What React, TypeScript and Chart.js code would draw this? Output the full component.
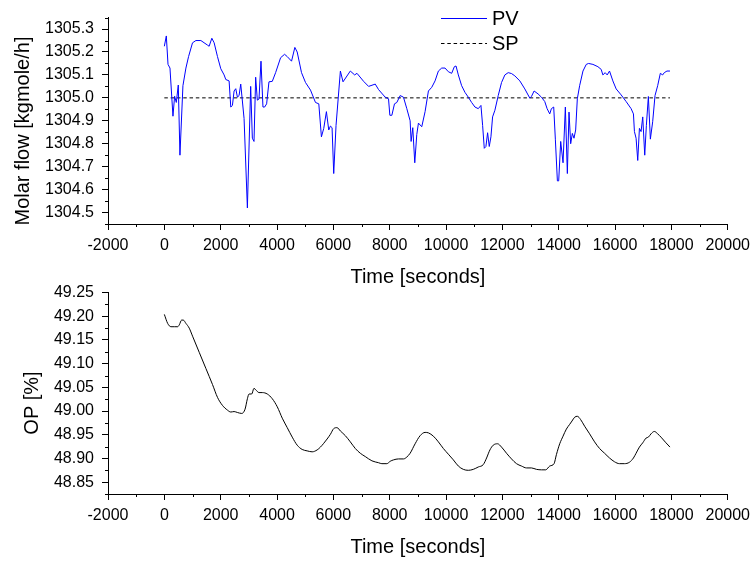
import React, { useEffect, useRef } from 'react';
import { Chart, registerables } from 'chart.js';

Chart.register(...registerables);

const FONT = "'Liberation Sans', Arial, Helvetica, sans-serif";

// ---- tick labels ----
const timeTicks = [-2000, 0, 2000, 4000, 6000, 8000, 10000, 12000, 14000, 16000, 18000, 20000];
const flowTicks = [1304.5, 1304.6, 1304.7, 1304.8, 1304.9, 1305.0, 1305.1, 1305.2, 1305.3];
const opTicks = [48.85, 48.9, 48.95, 49.0, 49.05, 49.1, 49.15, 49.2, 49.25];

// ---- PV (molar flow) ----
const pvTime = [
  0, 70, 130, 200, 306, 365, 424, 495, 554, 660,
  766, 860, 1000, 1120, 1297, 1533, 1590, 1686, 1768, 1886,
  2004, 2122, 2181, 2299, 2358, 2417, 2476, 2535, 2594, 2653,
  2712, 2830, 2948, 3065, 3124, 3183, 3242, 3301, 3360, 3431,
  3501, 3560, 3631, 3714, 3832, 3950, 4127, 4268, 4363, 4515,
  4633, 4716, 4869, 5011, 5188, 5365, 5483, 5576, 5659, 5753,
  5836, 5895, 5954, 6013, 6095, 6249, 6343, 6602, 6756, 6838,
  7074, 7251, 7487, 7605, 7840, 7958, 8005, 8076, 8170, 8253,
  8371, 8489, 8607, 8725, 8760, 8819, 8890, 8961, 9020, 9138,
  9256, 9374, 9492, 9610, 9728, 9846, 9964, 10082, 10200, 10295,
  10354, 10436, 10554, 10672, 10790, 10908, 11026, 11144, 11239, 11298,
  11357, 11416, 11475, 11534, 11593, 11652, 11734, 11852, 11970, 12088,
  12206, 12324, 12442, 12619, 12796, 12973, 13032, 13126, 13268, 13386,
  13504, 13587, 13681, 13740, 13822, 13881, 13952, 13999, 14070, 14153,
  14235, 14306, 14365, 14424, 14483, 14542, 14601, 14660, 14742, 14860,
  14978, 15060, 15214, 15390, 15508, 15567, 15650, 15720, 15803, 15921,
  16039, 16215, 16392, 16569, 16652, 16687, 16746, 16805, 16864, 16923,
  16982, 17053, 17111, 17182, 17253, 17335, 17418, 17512, 17607, 17689,
  17748, 17842, 17949,
];
const pvFlow = [
  1305.225, 1305.27, 1305.146, 1305.13, 1304.92, 1305.007, 1304.98, 1305.056, 1304.75, 1305.053,
  1305.13, 1305.18, 1305.24, 1305.25, 1305.25, 1305.23, 1305.225, 1305.26, 1305.24, 1305.18,
  1305.127, 1305.10, 1305.08, 1305.074, 1304.96, 1304.967, 1305.03, 1305.04, 1305.003, 1305.01,
  1305.06, 1304.91, 1304.52, 1305.05, 1304.824, 1304.81, 1305.09, 1304.99, 1304.995, 1305.16,
  1304.96, 1304.96, 1304.974, 1305.07, 1305.072, 1305.11, 1305.175, 1305.19, 1305.18, 1305.16,
  1305.22, 1305.20, 1305.11, 1305.067, 1305.034, 1304.98, 1304.974, 1304.83, 1304.867, 1304.94,
  1304.86, 1304.877, 1304.87, 1304.67, 1304.88, 1305.117, 1305.07, 1305.117, 1305.10, 1305.107,
  1305.072, 1305.05, 1305.06, 1305.036, 1305.003, 1304.996, 1304.924, 1304.924, 1304.974, 1304.98,
  1305.01, 1305.003, 1304.953, 1304.90, 1304.81, 1304.87, 1304.717, 1304.84, 1304.89, 1304.874,
  1304.94, 1305.03, 1305.046, 1305.074, 1305.117, 1305.13, 1305.13, 1305.114, 1305.107, 1305.136,
  1305.139, 1305.10, 1305.053, 1305.024, 1305.003, 1304.98, 1304.96, 1304.953, 1304.967, 1304.88,
  1304.78, 1304.788, 1304.848, 1304.788, 1304.83, 1304.917, 1304.946, 1305.01, 1305.067, 1305.10,
  1305.11, 1305.106, 1305.096, 1305.074, 1305.039, 1304.999, 1305.006, 1305.03, 1305.017, 1305.003,
  1304.984, 1304.953, 1304.93, 1304.953, 1304.96, 1304.817, 1304.638, 1304.638, 1304.81, 1304.717,
  1304.96, 1304.67, 1304.938, 1304.80, 1304.845, 1304.824, 1304.86, 1304.996, 1305.053, 1305.117,
  1305.146, 1305.15, 1305.146, 1305.136, 1305.124, 1305.10, 1305.11, 1305.10, 1305.117, 1305.074,
  1305.039, 1305.013, 1304.984, 1304.953, 1304.93, 1304.853, 1304.824, 1304.727, 1304.867, 1304.853,
  1304.917, 1304.75, 1304.88, 1305.006, 1304.82, 1304.896, 1305.01, 1305.053, 1305.107, 1305.10,
  1305.11, 1305.117, 1305.117,
];

// ---- SP ----
const spTime = [0, 17949];
const spFlow = [1305.0, 1305.0];

// ---- OP ----
const opTime = [
  0, 118, 236, 354, 472, 531, 613, 672, 766, 884,
  1002, 1238, 1474, 1710, 1886, 2063, 2240, 2358, 2476, 2594,
  2747, 2865, 2948, 3006, 3101, 3183, 3242, 3360, 3478, 3655,
  3832, 4009, 4186, 4363, 4540, 4716, 4893, 5070, 5247, 5424,
  5541, 5659, 5777, 5895, 6013, 6131, 6249, 6426, 6602, 6779,
  6956, 7133, 7369, 7605, 7722, 7899, 8017, 8135, 8312, 8489,
  8607, 8725, 8902, 9079, 9256, 9374, 9551, 9728, 9905, 10082,
  10259, 10436, 10613, 10790, 10967, 11144, 11321, 11439, 11557, 11675,
  11828, 11970, 12147, 12324, 12501, 12678, 12855, 13032, 13209, 13386,
  13539, 13681, 13834, 13917, 14035, 14153, 14271, 14389, 14471, 14566,
  14660, 14778, 14920, 15096, 15273, 15450, 15627, 15803, 15980, 16157,
  16333, 16510, 16652, 16746, 16864, 16982, 17100, 17182, 17276, 17394,
  17512, 17630, 17807, 17949,
];
const opValue = [
  49.204, 49.185, 49.178, 49.178, 49.178, 49.182, 49.192, 49.192, 49.185, 49.175,
  49.158, 49.124, 49.09, 49.056, 49.029, 49.012, 49.002, 48.998, 48.999, 48.997,
  48.995, 49.004, 49.026, 49.036, 49.036, 49.048, 49.045, 49.039, 49.039, 49.036,
  49.026, 49.009, 48.985, 48.965, 48.945, 48.928, 48.919, 48.916, 48.914, 48.918,
  48.924, 48.932, 48.941, 48.951, 48.963, 48.965, 48.958, 48.948, 48.935, 48.921,
  48.911, 48.904, 48.895, 48.891, 48.889, 48.889, 48.894, 48.897, 48.899, 48.899,
  48.903, 48.911, 48.931, 48.948, 48.955, 48.954, 48.947, 48.935, 48.921, 48.909,
  48.897, 48.884, 48.877, 48.875, 48.877, 48.882, 48.887, 48.901, 48.918, 48.928,
  48.931, 48.924, 48.911, 48.899, 48.889, 48.884, 48.880, 48.880, 48.877, 48.876,
  48.876, 48.884, 48.889, 48.908, 48.931, 48.947, 48.962, 48.972, 48.979, 48.987,
  48.989, 48.982, 48.968, 48.952, 48.935, 48.921, 48.911, 48.901, 48.893, 48.889,
  48.889, 48.892, 48.901, 48.911, 48.924, 48.933, 48.943, 48.945, 48.952, 48.957,
  48.952, 48.945, 48.933, 48.924,
];

const zip = (xs: number[], ys: number[]) => xs.map((x, i) => ({ x, y: ys[i] }));

function minorTicksPlugin(xMajor: number[], yMajor: number[]) {
  return {
    id: 'minorTicks',
    afterDraw(chart: any) {
      const ctx = chart.ctx;
      const { left, bottom } = chart.chartArea;
      ctx.save();
      ctx.strokeStyle = '#000';
      ctx.lineWidth = 1;
      const draw = (id: string, major: number[]) => {
        const scale = chart.scales[id];
        const step = major[1] - major[0];
        const vals = [major[0] - step / 2, ...major.map((v) => v + step / 2)].filter(
          (v) => v >= scale.min - 1e-9 && v <= scale.max + 1e-9
        );
        for (const v of vals) {
          const p = Math.round(scale.getPixelForValue(v)) + 0.5;
          ctx.beginPath();
          if (id === 'x') {
            ctx.moveTo(p, bottom);
            ctx.lineTo(p, bottom + 3);
          } else {
            ctx.moveTo(left - 3, p);
            ctx.lineTo(left, p);
          }
          ctx.stroke();
        }
      };
      draw('x', xMajor);
      draw('y', yMajor);
      ctx.restore();
    },
  };
}

function yTitlePlugin(text: string, cx: number, cy: number) {
  return {
    id: 'yTitle',
    afterDraw(chart: any) {
      const ctx = chart.ctx;
      ctx.save();
      ctx.translate(cx, cy);
      ctx.rotate(-Math.PI / 2);
      ctx.font = `20px ${FONT}`;
      ctx.fillStyle = '#000';
      ctx.textAlign = 'center';
      ctx.textBaseline = 'middle';
      ctx.fillText(text, 0, 0);
      ctx.restore();
    },
  };
}

function legendPlugin(x1: number, x2: number, textX: number, rows: number[]) {
  return {
    id: 'customLegend',
    afterDraw(chart: any) {
      const ctx = chart.ctx;
      ctx.save();
      chart.data.datasets.forEach((ds: any, i: number) => {
        const y = rows[i];
        ctx.beginPath();
        ctx.strokeStyle = ds.borderColor;
        ctx.lineWidth = ds.borderWidth;
        ctx.setLineDash(ds.borderDash || []);
        ctx.moveTo(x1, y + 0.5);
        ctx.lineTo(x2, y + 0.5);
        ctx.stroke();
        ctx.setLineDash([]);
        ctx.font = `20px ${FONT}`;
        ctx.fillStyle = '#000';
        ctx.textAlign = 'left';
        ctx.textBaseline = 'middle';
        ctx.fillText(ds.label, textX, y + 1.5);
      });
      ctx.restore();
    },
  };
}

const tickFont = { family: FONT, size: 16 };
const gridCfg = {
  display: true,
  drawOnChartArea: false,
  drawTicks: true,
  tickLength: 6,
  color: '#000',
  tickColor: '#000',
  lineWidth: 1,
};
const borderCfg = { display: true, color: '#000', width: 1 };

function xScale(height: number, titlePadBottom: number) {
  return {
    type: 'linear',
    min: -2000,
    max: 20000,
    afterBuildTicks: (s: any) => {
      s.ticks = timeTicks.map((v) => ({ value: v }));
    },
    afterFit: (s: any) => {
      s.height = height;
    },
    ticks: {
      autoSkip: false,
      maxRotation: 0,
      minRotation: 0,
      color: '#000',
      font: tickFont,
      padding: 6,
      callback: (v: any) => String(v),
    },
    grid: gridCfg,
    border: borderCfg,
    title: {
      display: true,
      text: 'Time [seconds]',
      color: '#000',
      font: { family: FONT, size: 20 },
      padding: { top: 0, bottom: titlePadBottom },
    },
  };
}

function yScale(min: number, max: number, ticks: number[], decimals: number) {
  return {
    type: 'linear',
    min,
    max,
    afterBuildTicks: (s: any) => {
      s.ticks = ticks.map((v) => ({ value: v }));
    },
    afterFit: (s: any) => {
      s.width = 108;
    },
    ticks: {
      autoSkip: false,
      color: '#000',
      font: tickFont,
      padding: 8,
      callback: (v: any) => Number(v).toFixed(decimals),
    },
    grid: gridCfg,
    border: borderCfg,
  };
}

export default function App() {
  const topRef = useRef<HTMLCanvasElement | null>(null);
  const botRef = useRef<HTMLCanvasElement | null>(null);

  useEffect(() => {
    if (!topRef.current || !botRef.current) return;
    const top = new Chart(topRef.current, {
      type: 'line',
      data: {
        datasets: [
          {
            label: 'PV',
            data: zip(pvTime, pvFlow),
            borderColor: '#0000ff',
            borderWidth: 1,
            pointRadius: 0,
            tension: 0,
          },
          {
            label: 'SP',
            data: zip(spTime, spFlow),
            borderColor: '#000',
            borderWidth: 1,
            borderDash: [3.5, 2.8],
            pointRadius: 0,
            tension: 0,
          },
        ],
      },
      options: {
        animation: false,
        responsive: false,
        maintainAspectRatio: false,
        devicePixelRatio: 1,
        layout: { padding: { left: 0, right: 25.3, top: 15, bottom: 0 } },
        plugins: { legend: { display: false }, tooltip: { enabled: false } },
        scales: {
          x: xScale(66, 1),
          y: yScale(1304.45, 1305.35, flowTicks, 1),
        },
      } as any,
      plugins: [
        minorTicksPlugin(timeTicks, flowTicks),
        yTitlePlugin('Molar flow [kgmole/h]', 23, 131),
        legendPlugin(441, 487, 492, [18, 43]),
      ],
    });
    const bot = new Chart(botRef.current, {
      type: 'line',
      data: {
        datasets: [
          {
            label: 'OP',
            data: zip(opTime, opValue),
            borderColor: '#000',
            borderWidth: 1,
            pointRadius: 0,
            cubicInterpolationMode: 'monotone',
          },
        ],
      },
      options: {
        animation: false,
        responsive: false,
        maintainAspectRatio: false,
        devicePixelRatio: 1,
        layout: { padding: { left: 0, right: 25.3, top: 10, bottom: 0 } },
        plugins: { legend: { display: false }, tooltip: { enabled: false } },
        scales: {
          x: xScale(67, 2),
          y: yScale(48.825, 49.25, opTicks, 2),
        },
      } as any,
      plugins: [minorTicksPlugin(timeTicks, opTicks), yTitlePlugin('OP [%]', 32, 128)],
    });
    return () => {
      top.destroy();
      bot.destroy();
    };
  }, []);

  return (
    <div style={{ position: 'absolute', left: 0, top: 0, width: 756, height: 561, background: '#fff' }}>
      <canvas ref={topRef} width={756} height={290} style={{ position: 'absolute', left: 0, top: 0 }} />
      <canvas ref={botRef} width={756} height={286} style={{ position: 'absolute', left: 0, top: 275 }} />
    </div>
  );
}
